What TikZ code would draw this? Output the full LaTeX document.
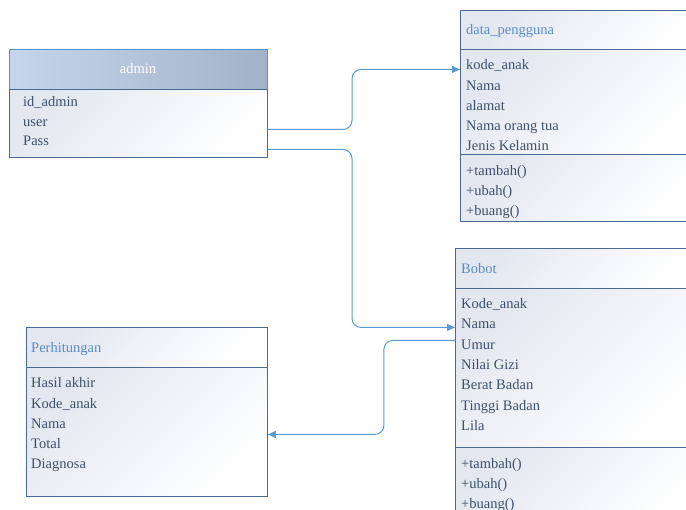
\documentclass[tikz,border=0pt]{standalone}
\usepackage{fontspec}
\setmainfont{Liberation Serif}
\usetikzlibrary{arrows.meta,calc}
\definecolor{linkblue}{HTML}{5B9BD5}
\definecolor{boxline}{HTML}{4A6A94}
\definecolor{txt}{HTML}{3E5069}
\definecolor{ttl}{HTML}{5B8CC6}
\definecolor{pale}{HTML}{E2E7F0}
\definecolor{hdl}{HTML}{C5D5EB}
\definecolor{hdr}{HTML}{A2B2C9}
\tikzset{>={Triangle[length=8pt,width=7pt]}}
\tikzset{
  part/.style={draw=boxline,line width=.9pt,anchor=north west,inner sep=0,
    top color=pale,bottom color=white,shading angle=45},
  head/.style={draw=linkblue!80!boxline,line width=.9pt,anchor=north west,inner sep=0,
    left color=hdl,right color=hdr},
  conn/.style={draw=linkblue,line width=1pt,rounded corners=9pt,->},
  attr/.style={anchor=base west,inner sep=0,text=txt,font=\rmfamily\fontsize{14.5}{18}\selectfont},
  ttlx/.style={attr,text=ttl}
}
\begin{document}
\begin{tikzpicture}[x=1pt,y=-1pt]
\useasboundingbox[fill=white] (0,0) rectangle (686,510);
\node[head,minimum width=258pt,minimum height=40pt] (adm) at (9,49) {};
\node[part,minimum width=258pt,minimum height=68pt] (admattr) at (9,89) {};
\node[attr,text=white,anchor=base] (admtitle) at (138,74) {admin};
\foreach \t [count=\i] in {id\_admin,user,Pass}
  \node[attr] (adm\i) at (23,{107+19.2*(\i-1)}) {\t};
\node[part,minimum width=240pt,minimum height=39pt] (dp) at (460,10) {};
\node[part,minimum width=240pt,minimum height=105pt] (dpattr) at (460,49) {};
\node[part,minimum width=240pt,minimum height=67pt] (dpops) at (460,154) {};
\node[ttlx] (dptitle) at (466,35) {data\_pengguna};
\foreach \t [count=\i] in {kode\_anak,Nama,alamat,Nama orang tua,Jenis Kelamin}
  \node[attr] (dpa\i) at (466,{70+20.2*(\i-1)}) {\t};
\foreach \t [count=\i] in {+tambah(),+ubah(),+buang()}
  \node[attr] (dpo\i) at (466,{176+20*(\i-1)}) {\t};
\node[part,minimum width=240pt,minimum height=40pt] (bb) at (455,248) {};
\node[part,minimum width=240pt,minimum height=159pt] (bbattr) at (455,288) {};
\node[part,minimum width=240pt,minimum height=80pt] (bbops) at (455,447) {};
\node[ttlx] (bbtitle) at (461,274) {Bobot};
\foreach \t [count=\i] in {Kode\_anak,Nama,Umur,Nilai Gizi,Berat Badan,Tinggi Badan,Lila}
  \node[attr] (bba\i) at (461,{308.5+20.35*(\i-1)}) {\t};
\foreach \t [count=\i] in {+tambah(),+ubah(),+buang()}
  \node[attr] (bbo\i) at (461,{469+20*(\i-1)}) {\t};
\node[part,minimum width=241pt,minimum height=40pt] (ph) at (26,327) {};
\node[part,minimum width=241pt,minimum height=129pt] (phattr) at (26,367) {};
\node[ttlx] (phtitle) at (31,353) {Perhitungan};
\foreach \t [count=\i] in {Hasil akhir,Kode\_anak,Nama,Total,Diagnosa}
  \node[attr] (pha\i) at (31,{388+20.25*(\i-1)}) {\t};
\draw[conn] ([yshift=-6pt]admattr.east) -| ([xshift=-108pt,yshift=32.5pt]dpattr.west) -- ([yshift=32.5pt]dpattr.west);
\draw[conn] ([yshift=-26pt]admattr.east) -| ([xshift=-103pt,yshift=40.5pt]bbattr.west) -- ([yshift=40.5pt]bbattr.west);
\draw[conn] ([yshift=27.5pt]bbattr.west) -| ([xshift=116pt,yshift=-2.5pt]phattr.east) -- ([yshift=-2.5pt]phattr.east);
\end{tikzpicture}
\end{document}
